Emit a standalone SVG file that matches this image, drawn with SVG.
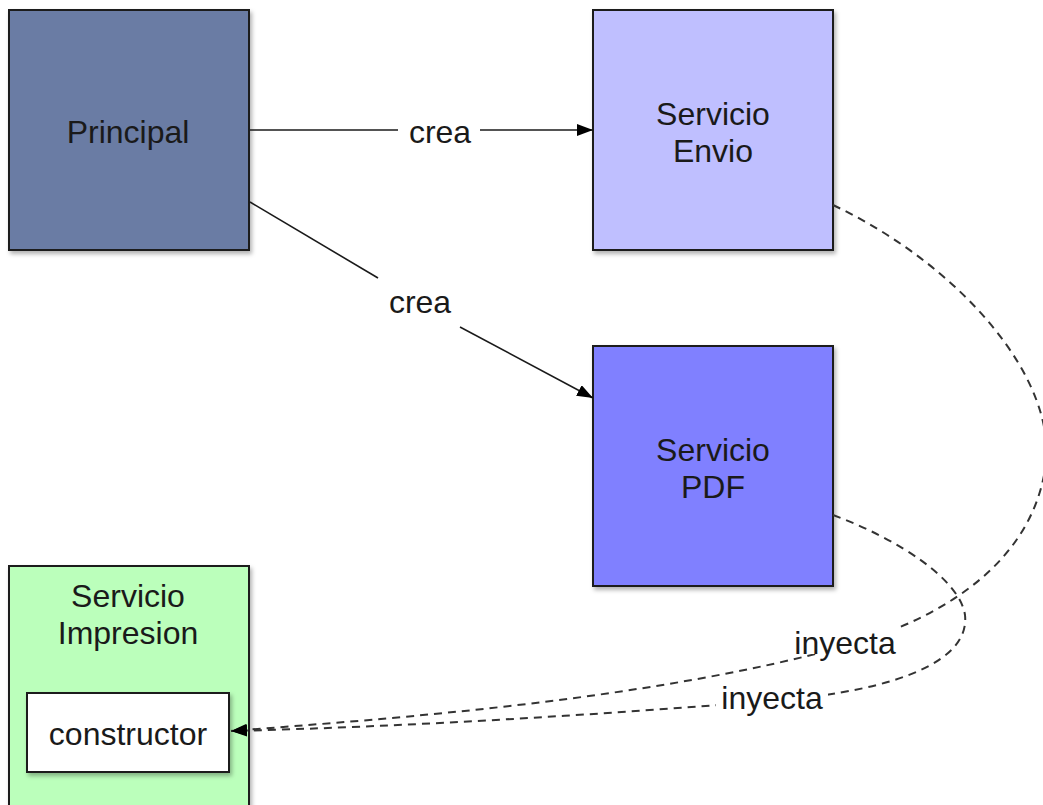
<svg xmlns="http://www.w3.org/2000/svg" width="1043" height="805" viewBox="0 0 1043 805">
<style>
.box{stroke:#1a1a1a;stroke-width:2;filter:url(#sh)}
.t{font-family:"Liberation Sans",Arial,sans-serif;font-size:32px;fill:#1a1a1a;text-anchor:middle}
.ln{stroke:#1a1a1a;stroke-width:1.6;fill:none}
.ds{stroke:#333;stroke-width:2;fill:none;stroke-dasharray:8 6}
</style>
<defs>
<filter id="sh" x="-10%" y="-10%" width="130%" height="130%">
<feDropShadow dx="2" dy="3" stdDeviation="2" flood-color="#000" flood-opacity="0.3"/>
</filter>
<marker id="ah" viewBox="0 0 16 12" refX="16" refY="6" markerWidth="16" markerHeight="12" markerUnits="userSpaceOnUse" orient="auto">
<path d="M0,0 L16,6 L0,12 Z" fill="#000"/>
</marker>
</defs>
<g id="principal">
<rect class="box" x="9" y="10" width="240" height="240" fill="#6a7ba4"/>
<text class="t" x="128" y="143">Principal</text>
</g>
<g id="servicio-envio">
<rect class="box" x="593" y="10" width="240" height="240" fill="#bfbfff"/>
<text class="t" x="713" y="125">Servicio</text>
<text class="t" x="713" y="162">Envio</text>
</g>
<g id="servicio-pdf">
<rect class="box" x="593" y="346" width="240" height="240" fill="#8080ff"/>
<text class="t" x="713" y="461">Servicio</text>
<text class="t" x="713" y="498">PDF</text>
</g>
<g id="servicio-impresion">
<rect class="box" x="9" y="566" width="240" height="260" fill="#bbffbb"/>
<text class="t" x="128" y="607">Servicio</text>
<text class="t" x="128" y="644">Impresion</text>
</g>
<g id="constructor">
<rect class="box" x="27" y="693" width="202" height="79" fill="#ffffff"/>
<text class="t" x="128" y="745">constructor</text>
</g>
<g id="connectors">
<line class="ln" x1="250" y1="130" x2="398" y2="130"/>
<line class="ln" x1="480" y1="130" x2="593" y2="130" marker-end="url(#ah)"/>
<text class="t" x="440" y="143">crea</text>
<line class="ln" x1="250" y1="202" x2="378" y2="278"/>
<line class="ln" x1="460" y1="327" x2="593" y2="398" marker-end="url(#ah)"/>
<text class="t" x="420" y="313">crea</text>
<path class="ds" d="M833,205 C960,265 1060,380 1045,470 C1030,560 950,615 850,645 C650,700 400,718 231,731" marker-end="url(#ah)"/>
<path class="ds" d="M833,515 C900,540 960,580 965,615 C970,660 900,690 780,700 C600,715 400,727 231,731" marker-end="url(#ah)"/>
<rect x="790" y="622" width="110" height="32" fill="#fff"/>
<text class="t" x="845" y="654">inyecta</text>
<rect x="716" y="678" width="112" height="34" fill="#fff"/>
<text class="t" x="772" y="709">inyecta</text>
</g>
</svg>
